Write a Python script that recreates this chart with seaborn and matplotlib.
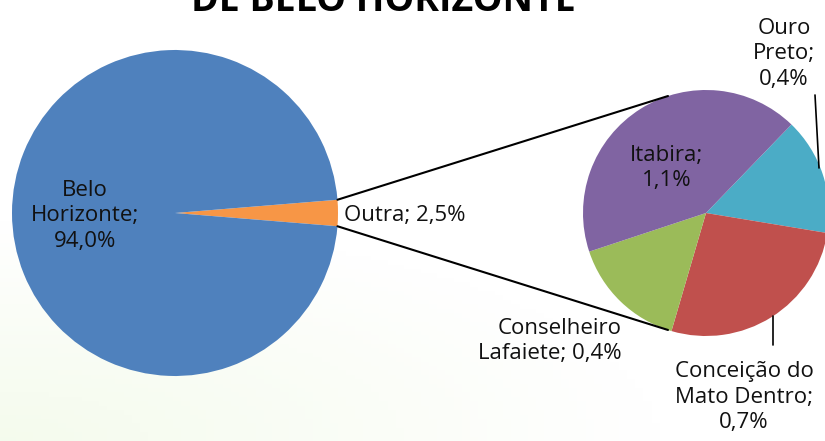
import numpy as np
import matplotlib.pyplot as plt
import seaborn as sns

# dados
main_names = ["Outra", "Belo Horizonte"]
main_values = [2.5, 94.0]
main_text = ["Outra; 2,5%", "Belo\nHorizonte;\n94,0%"]

sub_names = ["Ouro Preto", "Conceição do Mato Dentro", "Conselheiro Lafaiete", "Itabira"]
sub_values = [0.4, 0.7, 0.4, 1.1]
sub_text = ["Ouro\nPreto;\n0,4%", "Conceição do\nMato Dentro;\n0,7%",
            "Conselheiro\nLafaiete; 0,4%", "Itabira;\n1,1%"]

title = "DE BELO HORIZONTE"

sns.set_theme(style="white")
plt.rcParams['font.family'] = ['Open Sans', 'DejaVu Sans']

main_colors = ["#F79646", "#4F81BD"]
sub_colors = ["#4BACC6", "#C0504D", "#9BBB59", "#8064A2"]

W, H = 825, 441
fig = plt.figure(figsize=(W / 100, H / 100), dpi=100)
ax = fig.add_axes([0, 0, 1, 1])

# fundo com leve degradê verde no canto inferior esquerdo
yy, xx = np.mgrid[0:1:100j, 0:1:100j]
g = np.clip(1 - np.sqrt((xx / 0.8) ** 2 + (yy / 0.5) ** 2), 0, 1)
bg = np.ones((100, 100, 3))
bg[..., 0] -= 0.04 * g
bg[..., 1] -= 0.015 * g
bg[..., 2] -= 0.07 * g
ax.imshow(bg, extent=[0, W, 0, H], origin="lower", zorder=0, aspect="auto")

c1, r1 = (175, H - 213), 163
c2, r2 = (706, H - 213), 123

total = sum(main_values)
half = 180 * main_values[0] / total
ax.pie(main_values, colors=main_colors, center=c1, radius=r1,
       startangle=-half, counterclock=True, frame=True,
       wedgeprops=dict(linewidth=0))
ax.pie(sub_values, colors=sub_colors, center=c2, radius=r2,
       startangle=46, counterclock=False, frame=True,
       wedgeprops=dict(linewidth=0))

# linhas de ligação
for s in (1, -1):
    a1 = np.radians(s * half)
    a2 = np.radians(s * 108)
    ax.plot([c1[0] + r1 * np.cos(a1), c2[0] + r2 * np.cos(a2)],
            [c1[1] + r1 * np.sin(a1), c2[1] + r2 * np.sin(a2)],
            color="black", lw=1.5, zorder=3)

fs = 16
kw = dict(fontsize=fs, color="#111111", linespacing=1.3, zorder=4)
ax.text(344, H - 216, main_text[0], ha="left", va="center", **kw)
ax.text(85, H - 216, main_text[1], ha="center", va="center", multialignment="center", **kw)
ax.text(667, H - 168, sub_text[3], ha="center", va="center", multialignment="center", **kw)
ax.text(784, H - 54, sub_text[0], ha="center", va="center", multialignment="center", **kw)
ax.text(744, H - 397, sub_text[1], ha="center", va="center", multialignment="center", **kw)
ax.text(622, H - 341, sub_text[2], ha="right", va="center", multialignment="right", **kw)

# linhas guia dos rótulos
ax.plot([815, 819], [H - 95, H - 168], color="black", lw=1.2, zorder=3)
ax.plot([773, 773], [H - 316, H - 345], color="black", lw=1.2, zorder=3)

ax.text(383, H - 11, title, ha="center", va="baseline", fontsize=27,
        fontweight="bold", color="black", zorder=4)

ax.set_xlim(0, W)
ax.set_ylim(0, H)
ax.set_aspect("auto")
ax.axis("off")

fig.savefig("out.png", dpi=100)
